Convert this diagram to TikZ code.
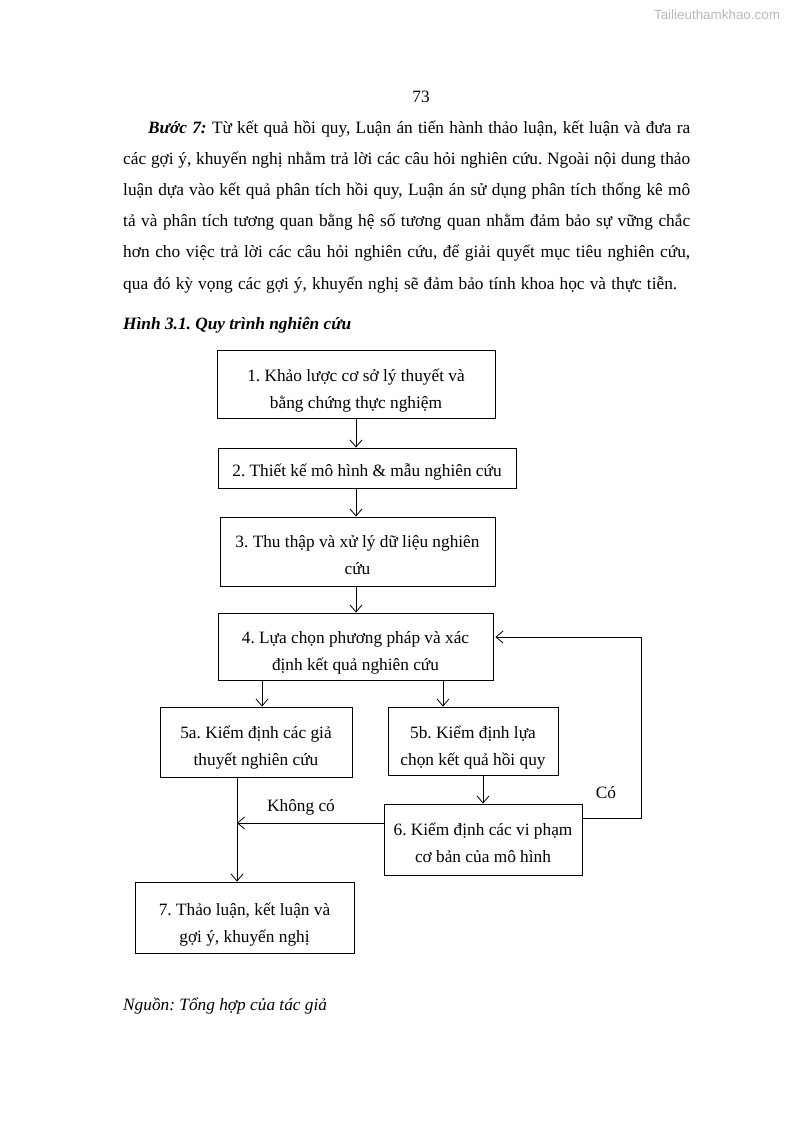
\documentclass[tikz,border=0pt]{standalone}
\usepackage{fontspec}
\setmainfont{Liberation Serif}
\newfontfamily\wmfont{Liberation Sans}
\usetikzlibrary{arrows.meta}
\frenchspacing
\newcommand\bxtext[2][5pt]{\raisebox{-#1}[\height][\depth]{\begin{tabular}{@{}c@{}}#2\end{tabular}}}
\begin{document}
\begin{tikzpicture}[x=1pt,y=-1pt,
  box/.style={draw, line width=0.9pt, inner sep=0pt,
    font=\fontsize{17.3}{27}\selectfont\frenchspacing},
  arr/.style={line width=0.8pt, -{Straight Barb[length=7pt,width=12pt]}},
  bodytext/.style={anchor=base west, inner sep=0pt, font=\fontsize{17.3}{31}\selectfont\frenchspacing},
  lbl/.style={inner sep=0pt, font=\fontsize{17.3}{20}\selectfont}]
\useasboundingbox (0,0) rectangle (794,1123);
\fill[white] (0,0) rectangle (794,1123);

% watermark and page number
\node[inner sep=0pt, text=gray!55, font=\wmfont\fontsize{13.4}{15}\selectfont] (wm) at (717,15) {Tailieuthamkhao.com};
\node[inner sep=0pt, anchor=base, font=\fontsize{17.3}{20}\selectfont] (pg) at (421,103) {73};

% paragraph
\node[bodytext] (p1) at (148,134) {\makebox[542pt][s]{\textbf{\textit{Bước 7:}} Từ kết quả hồi quy, Luận án tiến hành thảo luận, kết luận và đưa ra}};
\node[bodytext] (p2) at (123,165) {\makebox[567pt][s]{các gợi ý, khuyến nghị nhằm trả lời các câu hỏi nghiên cứu. Ngoài nội dung thảo}};
\node[bodytext] (p3) at (123,196) {\makebox[567pt][s]{luận dựa vào kết quả phân tích hồi quy, Luận án sử dụng phân tích thống kê mô}};
\node[bodytext] (p4) at (123,227) {\makebox[567pt][s]{tả và phân tích tương quan bằng hệ số tương quan nhằm đảm bảo sự vững chắc}};
\node[bodytext] (p5) at (123,258) {\makebox[567pt][s]{hơn cho việc trả lời các câu hỏi nghiên cứu, để giải quyết mục tiêu nghiên cứu,}};
\node[bodytext] (p6) at (123,289) {\makebox[554pt][s]{qua đó kỳ vọng các gợi ý, khuyến nghị sẽ đảm bảo tính khoa học và thực tiễn.}};

\node[bodytext] (cap) at (123,329) {\textbf{\textit{Hình 3.1. Quy trình nghiên cứu}}};

% boxes
\node[box, minimum width=278pt, minimum height=68pt] (b1) at (356,384) {\bxtext[6pt]{1. Khảo lược cơ sở lý thuyết và\\bằng chứng thực nghiệm}};
\node[box, minimum width=298pt, minimum height=40pt] (b2) at (367,468) {\bxtext[3.5pt]{2. Thiết kế mô hình \& mẫu nghiên cứu}};
\node[box, minimum width=275pt, minimum height=69pt] (b3) at (357.5,551.5) {\bxtext[4.5pt]{3. Thu thập và xử lý dữ liệu nghiên\\cứu}};
\node[box, minimum width=275pt, minimum height=67pt] (b4) at (355.5,646.5) {\bxtext[5.5pt]{4. Lựa chọn phương pháp và xác\\định kết quả nghiên cứu}};
\node[box, minimum width=192pt, minimum height=70pt] (b5a) at (256,742) {\bxtext[5pt]{5a. Kiểm định các giả\\thuyết nghiên cứu}};
\node[box, minimum width=170pt, minimum height=68pt] (b5b) at (473,741) {\bxtext[5.5pt]{5b. Kiểm định lựa\\chọn kết quả hồi quy}};
\node[box, minimum width=198pt, minimum height=71pt] (b6) at (483,839.5) {\bxtext[4pt]{6. Kiểm định các vi phạm\\cơ bản của mô hình}};
\node[box, minimum width=219pt, minimum height=71pt] (b7) at (244.5,917.5) {\bxtext[6pt]{7. Thảo luận, kết luận và\\gợi ý, khuyến nghị}};

% connectors
\draw[arr] (b1.south) -- (b1.south |- b2.north);
\draw[arr] (b2.south -| b1.south) -- (b3.north -| b1.south);
\draw[arr] (b3.south -| b1.south) -- (b4.north -| b1.south);
\draw[arr] ([xshift=6pt]b5a.north |- b4.south) -- ([xshift=6pt]b5a.north);
\draw[arr] ([xshift=-30pt]b5b.north |- b4.south) -- ([xshift=-30pt]b5b.north);
\draw[arr] ([xshift=10pt]b5b.south) -- ([xshift=10pt]b5b.south |- b6.north);

\coordinate (j) at (237,823);
\draw[arr] ([yshift=16.5pt]b6.west) -- (j);
\draw[arr] ([xshift=-19pt]b5a.south) -- ([xshift=-19pt]b5a.south |- b7.north);

\coordinate (fb) at (641,637);
\draw[arr] ([yshift=21.5pt]b6.east) -| (fb) -- ([yshift=9.5pt,xshift=2pt]b4.east);

% labels
\node[lbl] (co) at (606,793) {Có};
\node[lbl] (kc) at (301,807) {Không có};

\node[bodytext] (src) at (123,1010) {\textit{Nguồn: Tổng hợp của tác giả}};
\end{tikzpicture}
\end{document}
